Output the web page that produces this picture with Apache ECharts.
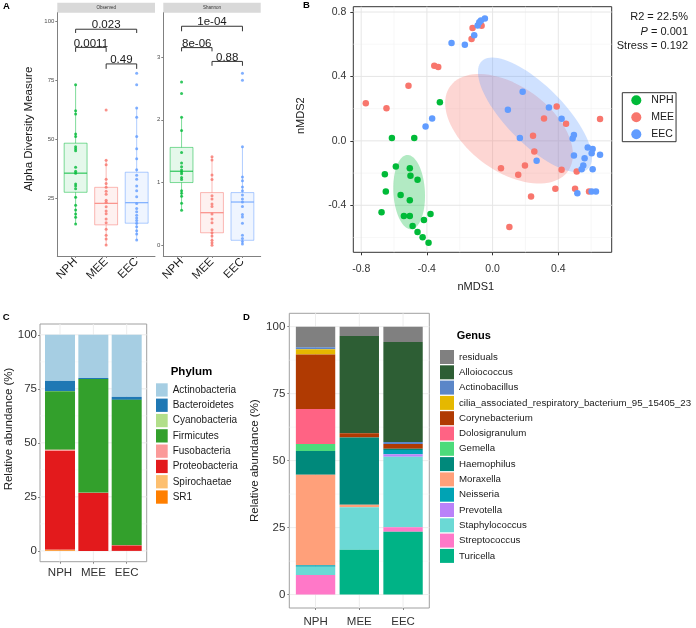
<!DOCTYPE html>
<html><head><meta charset="utf-8">
<script src="https://cdn.jsdelivr.net/npm/echarts@6/dist/echarts.min.js"></script>
<style>html,body{margin:0;padding:0;background:#fff}#c{width:696px;height:628px}</style>
</head><body><div id="c"></div>
<script>
// ---------- shared ----------
const groups = ['NPH', 'MEE', 'EEC'];
const groupColors = ['#00BA38', '#F8766D', '#619CFF'];
const groupPos = [1, 2, 3];

// ---------- Panel A : alpha diversity ----------
const obsNPH = [73.3, 62.3, 60.9, 52.4, 51.3, 47.0, 46.2, 45.3, 38.3, 36.6, 35.8, 31.2, 30.4, 29.2, 25.6, 22.2, 20.2, 18.5, 17.1, 14.3];
const obsMEE = [62.6, 41.3, 39.4, 33.2, 31.4, 29.8, 28.1, 26.9, 24.3, 23.5, 21.6, 19.8, 18.6, 16.4, 14.8, 12.0, 9.5, 7.9, 5.4];
const obsEEC = [78.1, 73.3, 63.4, 59.5, 51.3, 46.2, 41.9, 37.2, 34.9, 33.2, 30.4, 28.4, 25.8, 23.0, 20.8, 19.4, 18.0, 16.8, 15.7, 14.6, 13.1, 11.4, 10.0, 7.5];
const shanNPH = [2.60, 2.42, 2.04, 1.83, 1.48, 1.31, 1.25, 1.20, 1.17, 1.14, 1.08, 1.05, 0.87, 0.83, 0.78, 0.67, 0.56];
const shanMEE = [1.41, 1.36, 1.12, 1.05, 0.79, 0.74, 0.66, 0.62, 0.50, 0.42, 0.36, 0.25, 0.20, 0.15, 0.08, 0.04, 0.00];
const shanEEC = [2.74, 2.63, 1.57, 1.09, 1.03, 0.93, 0.87, 0.80, 0.74, 0.69, 0.62, 0.49, 0.45, 0.35, 0.16, 0.11, 0.06, 0.02];
// box stats: [lower whisker, Q1, median, Q3, upper whisker]
const obsBox = [[14.3, 27.7, 35.8, 48.5, 73.3], [5.4, 13.9, 23.0, 29.8, 41.3], [7.5, 14.6, 23.3, 36.2, 63.4]];
const shanBox = [[0.56, 1.00, 1.18, 1.56, 2.04], [0.00, 0.20, 0.52, 0.84, 1.41], [0.02, 0.08, 0.69, 0.84, 1.57]];
// brackets: [from group, to group, bracket level, tick end]
const obsBrackets = [[1, 3, 96.8, 95.2], [1, 2, 89.1, 87.2], [2, 3, 82.1, 80.0]];
const obsBracketLabels = ['0.023', '0.0011', '0.49'];
const shanBrackets = [[1, 3, 3.49, 3.41], [1, 2, 3.15, 3.09], [2, 3, 2.93, 2.86]];
const shanBracketLabels = ['1e-04', '8e-06', '0.88'];
const obsTicks = [25, 50, 75, 100];
const shanTicks = [0, 1, 2, 3];

// ---------- Panel B : nMDS ----------
const nmdsNPH = [[-0.321, 0.240], [-0.613, 0.017], [-0.477, 0.017], [-0.589, -0.160], [-0.504, -0.170], [-0.656, -0.207], [-0.500, -0.216], [-0.457, -0.242], [-0.650, -0.315], [-0.560, -0.336], [-0.504, -0.369], [-0.676, -0.443], [-0.540, -0.466], [-0.504, -0.466], [-0.378, -0.454], [-0.418, -0.491], [-0.487, -0.528], [-0.457, -0.566], [-0.426, -0.599], [-0.390, -0.632]];
const nmdsMEE = [[-0.772, 0.234], [-0.646, 0.203], [-0.512, 0.342], [-0.355, 0.466], [-0.331, 0.458], [-0.128, 0.632], [-0.122, 0.700], [-0.067, 0.715], [0.390, 0.213], [0.313, 0.139], [0.447, 0.106], [0.654, 0.135], [0.246, 0.031], [0.254, -0.066], [0.051, -0.170], [0.156, -0.211], [0.197, -0.153], [0.420, -0.180], [0.512, -0.191], [0.382, -0.298], [0.234, -0.346], [0.502, -0.298], [0.587, -0.315], [0.102, -0.535]];
const nmdsEEC = [[-0.250, 0.607], [-0.169, 0.597], [-0.112, 0.655], [-0.091, 0.717], [-0.081, 0.736], [-0.071, 0.748], [-0.047, 0.759], [-0.408, 0.089], [-0.368, 0.139], [0.183, 0.305], [0.093, 0.193], [0.343, 0.207], [0.420, 0.137], [0.166, 0.017], [0.495, 0.037], [0.487, 0.015], [0.268, -0.124], [0.495, -0.091], [0.579, -0.041], [0.609, -0.050], [0.603, -0.077], [0.654, -0.087], [0.560, -0.108], [0.552, -0.153], [0.542, -0.176], [0.609, -0.176], [0.516, -0.325], [0.603, -0.315], [0.629, -0.315]];
// ellipses: centre, [semi-axis along angle, perpendicular semi-axis], angle (deg)
const ellipseCenters = [[-0.508, -0.318], [0.100, 0.075], [0.258, 0.161]];
const ellipseAxes = [[0.231, 0.096], [0.445, 0.262], [0.465, 0.177]];
const ellipseAngles = [93, -37, -46];
const nmdsXTicks = [-0.8, -0.4, 0, 0.4];
const nmdsYTicks = [-0.4, 0, 0.4, 0.8];
const nmdsXMinor = [-0.6, -0.2, 0.2, 0.6];
const nmdsYMinor = [-0.6, -0.2, 0.2, 0.6];
const statLines = ['R2 = 22.5%', '{i|P} = 0.001', 'Stress = 0.192'];

// ---------- Panel C : phylum ----------
const phyla = ['Actinobacteria', 'Bacteroidetes', 'Cyanobacteria', 'Firmicutes', 'Fusobacteria', 'Proteobacteria', 'Spirochaetae', 'SR1'];
const phylaColors = ['#A6CEE3', '#1F78B4', '#B2DF8A', '#33A02C', '#FB9A99', '#E31A1C', '#FDBF6F', '#FF7F00'];
const phylumNPH = [21.3, 4.7, 0.1, 27.1, 0.6, 45.7, 0.2, 0.3];
const phylumMEE = [20.0, 0.5, 0.0, 52.6, 0.1, 26.8, 0.0, 0.0];
const phylumEEC = [28.7, 1.4, 0.0, 67.3, 0.1, 2.5, 0.0, 0.0];

// ---------- Panel D : genus ----------
const genera = ['residuals', 'Alloiococcus', 'Actinobacillus', 'cilia_associated_respiratory_bacterium_95_15405_23', 'Corynebacterium', 'Dolosigranulum', 'Gemella', 'Haemophilus', 'Moraxella', 'Neisseria', 'Prevotella', 'Staphylococcus', 'Streptococcus', 'Turicella'];
const generaColors = ['#808080', '#2D5E34', '#5B86C8', '#E5B800', '#B03A02', '#FF6384', '#4CDB7B', '#00897B', '#FFA07A', '#00A3B4', '#BA82F9', '#6BD9D5', '#FF78C8', '#00B386'];
const genusNPH = [7.7, 0.0, 0.7, 2.0, 20.3, 13.1, 2.6, 8.9, 33.7, 0.6, 0.0, 3.1, 7.3, 0.0];
const genusMEE = [3.5, 36.3, 0.0, 0.0, 1.6, 0.0, 0.0, 25.1, 0.9, 0.0, 0.0, 15.9, 0.0, 16.7];
const genusEEC = [5.7, 37.3, 0.8, 0.0, 1.8, 0.0, 0.0, 0.4, 0.0, 1.6, 0.9, 26.4, 1.6, 23.5];
const abundTicks = [0, 25, 50, 75, 100];
const abundMinor = [12.5, 37.5, 62.5, 87.5];

// ================= helpers =================
const FONT = 'Liberation Sans, Arial, sans-serif';
function rgba(hex, a) {
  const n = parseInt(hex.slice(1), 16);
  return 'rgba(' + ((n >> 16) & 255) + ',' + ((n >> 8) & 255) + ',' + (n & 255) + ',' + a + ')';
}
function boxRender(params, api) {
  const x = api.value(0);
  const c = groupColors[params.dataIndex];
  const hw = api.size([0.75, 0])[0] / 2;
  const pMin = api.coord([x, api.value(1)]);
  const pQ1 = api.coord([x, api.value(2)]);
  const pMed = api.coord([x, api.value(3)]);
  const pQ3 = api.coord([x, api.value(4)]);
  const pMax = api.coord([x, api.value(5)]);
  const ln = rgba(c, 0.5);
  return { type: 'group', children: [
    { type: 'line', shape: { x1: pMin[0], y1: pMin[1], x2: pQ1[0], y2: pQ1[1] }, style: { stroke: ln, lineWidth: 1 } },
    { type: 'line', shape: { x1: pQ3[0], y1: pQ3[1], x2: pMax[0], y2: pMax[1] }, style: { stroke: ln, lineWidth: 1 } },
    { type: 'rect', shape: { x: pQ3[0] - hw, y: pQ3[1], width: 2 * hw, height: pQ1[1] - pQ3[1] }, style: { fill: rgba(c, 0.1), stroke: ln, lineWidth: 1 } },
    { type: 'line', shape: { x1: pMed[0] - hw, y1: pMed[1], x2: pMed[0] + hw, y2: pMed[1] }, style: { stroke: rgba(c, 0.75), lineWidth: 1.3 } }
  ] };
}
function bracketRender(labels) {
  return function (params, api) {
    const x1 = api.value(0), x2 = api.value(1), yT = api.value(2), yB = api.value(3);
    const a = api.coord([x1, yB]), b = api.coord([x1, yT]), c = api.coord([x2, yT]), d = api.coord([x2, yB]);
    return { type: 'group', children: [
      { type: 'polyline', shape: { points: [a, b, c, d] }, style: { stroke: '#333', lineWidth: 1, fill: null } },
      { type: 'text', style: { text: labels[params.dataIndex], x: (b[0] + c[0]) / 2, y: b[1] + 2, align: 'center', verticalAlign: 'bottom', fontSize: 11.5, fontFamily: FONT, fill: '#1a1a1a' } }
    ] };
  };
}
function ellipseRender(params, api) {
  const i = params.dataIndex;
  const cx = ellipseCenters[i][0], cy = ellipseCenters[i][1];
  const a = ellipseAxes[i][0], b = ellipseAxes[i][1];
  const th = ellipseAngles[i] * Math.PI / 180;
  const pts = [];
  for (let k = 0; k < 90; k++) {
    const t = k / 90 * 2 * Math.PI;
    const dx = a * Math.cos(t), dy = b * Math.sin(t);
    pts.push(api.coord([cx + dx * Math.cos(th) - dy * Math.sin(th), cy + dx * Math.sin(th) + dy * Math.cos(th)]));
  }
  return { type: 'polygon', shape: { points: pts }, style: { fill: rgba(groupColors[i], 0.3) } };
}
function gridSeries(idx, hVals, vVals, color, width) {
  const rows = hVals.map(v => [0, v]).concat(vVals.map(v => [1, v]));
  return {
    type: 'custom', xAxisIndex: idx, yAxisIndex: idx, z: 0, silent: true, data: rows,
    renderItem: function (params, api) {
      const cs = params.coordSys;
      const o = api.value(0), v = api.value(1);
      if (o === 0) {
        const y = api.coord([0, v])[1];
        return { type: 'line', shape: { x1: cs.x, y1: y, x2: cs.x + cs.width, y2: y }, style: { stroke: color, lineWidth: width } };
      }
      const x = api.coord([v, 0])[0];
      return { type: 'line', shape: { x1: x, y1: cs.y, x2: x, y2: cs.y + cs.height }, style: { stroke: color, lineWidth: width } };
    }
  };
}
function stackSeries(idx, names, colors, groupArrays, width) {
  const out = [];
  names.forEach(function (name, i) {
    const rows = groupArrays.map(function (arr, g) {
      let base = 0;
      for (let j = i + 1; j < arr.length; j++) base += arr[j];
      return [groupPos[g], base, base + arr[i]];
    });
    out.push({
      type: 'custom', name: name, xAxisIndex: idx, yAxisIndex: idx, z: 2, data: rows,
      itemStyle: { color: colors[i] },
      encode: { x: 0, y: [1, 2] },
      renderItem: function (params, api) {
        const x = api.value(0), y0 = api.value(1), y1 = api.value(2);
        if (!(y1 > y0)) return null;
        const p0 = api.coord([x - width / 2, y1]);
        const p1 = api.coord([x + width / 2, y0]);
        return { type: 'rect', shape: { x: p0[0], y: p0[1], width: p1[0] - p0[0], height: p1[1] - p0[1] }, style: { fill: colors[i] } };
      }
    });
  });
  return out;
}
function groupAxisX(gridIndex, extra) {
  return Object.assign({
    type: 'value', gridIndex: gridIndex, min: 0.4, max: 3.6,
    splitLine: { show: false },
    axisLine: { show: false, onZero: false },
    axisTick: { show: true, customValues: groupPos, length: 2, lineStyle: { color: '#888' } },
    axisLabel: { customValues: groupPos, formatter: v => groups[Math.round(v) - 1], fontSize: 11.5, color: '#333', margin: 5 }
  }, extra || {});
}
function titleText(text, x, y, rot, size) {
  return { type: 'text', x: x, y: y, rotation: rot, style: { text: text, fontSize: size, fontFamily: FONT, fill: '#1a1a1a', align: 'center', verticalAlign: 'middle' } };
}

// ================= option =================
const series = [];
// Panel A
[[0, [obsNPH, obsMEE, obsEEC], obsBox, obsBrackets, obsBracketLabels],
 [1, [shanNPH, shanMEE, shanEEC], shanBox, shanBrackets, shanBracketLabels]].forEach(function (p) {
  const idx = p[0];
  series.push({ type: 'custom', xAxisIndex: idx, yAxisIndex: idx, z: 2, silent: true,
    data: p[2].map((b, i) => [groupPos[i]].concat(b)), encode: { x: 0, y: [1, 2, 3, 4, 5] }, renderItem: boxRender });
  p[1].forEach(function (arr, g) {
    series.push({ type: 'scatter', name: 'A-' + groups[g] + idx, xAxisIndex: idx, yAxisIndex: idx, z: 3, silent: true,
      symbol: 'circle', symbolSize: 3, itemStyle: { color: groupColors[g] },
      data: arr.map(v => [groupPos[g], v]) });
  });
  series.push({ type: 'custom', xAxisIndex: idx, yAxisIndex: idx, z: 4, silent: true,
    data: p[3], encode: { x: [0, 1], y: [2, 3] }, renderItem: bracketRender(p[4]) });
});
// Panel B
series.push(gridSeries(2, nmdsYMinor, nmdsXMinor, '#F2F2F2', 0.6));
series.push(gridSeries(2, nmdsYTicks, nmdsXTicks, '#E6E6E6', 1));
series.push({ type: 'custom', xAxisIndex: 2, yAxisIndex: 2, z: 1, silent: true,
  data: ellipseCenters, encode: { x: 0, y: 1 }, renderItem: ellipseRender });
[nmdsNPH, nmdsMEE, nmdsEEC].forEach(function (arr, g) {
  series.push({ type: 'scatter', name: groups[g], xAxisIndex: 2, yAxisIndex: 2, z: 3,
    symbol: 'circle', symbolSize: 6.5, itemStyle: { color: groupColors[g], opacity: 1 }, data: arr });
});
// Panel C
series.push(gridSeries(3, abundMinor, [], '#F5F5F5', 0.6));
series.push(gridSeries(3, abundTicks, groupPos, '#EDEDED', 1));
stackSeries(3, phyla, phylaColors, [phylumNPH, phylumMEE, phylumEEC], 0.9).forEach(s => series.push(s));
// Panel D
series.push(gridSeries(4, abundMinor, [], '#F5F5F5', 0.6));
series.push(gridSeries(4, abundTicks, groupPos, '#EDEDED', 1));
stackSeries(4, genera, generaColors, [genusNPH, genusMEE, genusEEC], 0.9).forEach(s => series.push(s));

const option = {
  animation: false,
  textStyle: { fontFamily: FONT },
  grid: [
    { left: 57.3, top: 12.7, width: 97.7, height: 243.3 },
    { left: 163.3, top: 12.7, width: 97.4, height: 243.3 },
    { left: 353.3, top: 6.7, width: 258.4, height: 245.6, show: true, borderColor: '#333', borderWidth: 1, backgroundColor: 'transparent' },
    { left: 40, top: 324, width: 106.7, height: 237.7, show: true, borderColor: '#A0A0A0', borderWidth: 1, backgroundColor: 'transparent' },
    { left: 289.3, top: 313.3, width: 140, height: 295, show: true, borderColor: '#A0A0A0', borderWidth: 1, backgroundColor: 'transparent' }
  ],
  xAxis: [
    groupAxisX(0, { axisLine: { show: true, onZero: false, lineStyle: { color: '#808080' } },
      axisLabel: { customValues: groupPos, formatter: v => groups[Math.round(v) - 1], rotate: 45, fontSize: 11.5, color: '#1a1a1a', margin: 4 } }),
    groupAxisX(1, { axisLine: { show: true, onZero: false, lineStyle: { color: '#808080' } },
      axisLabel: { customValues: groupPos, formatter: v => groups[Math.round(v) - 1], rotate: 45, fontSize: 11.5, color: '#1a1a1a', margin: 4 } }),
    { type: 'value', gridIndex: 2, min: -0.848, max: 0.725, splitLine: { show: false },
      axisLine: { show: false, onZero: false },
      axisTick: { show: true, customValues: nmdsXTicks, length: 3, lineStyle: { color: '#333' } },
      axisLabel: { customValues: nmdsXTicks, formatter: v => v.toFixed(1), fontSize: 10.5, color: '#333', margin: 11 } },
    groupAxisX(3, { axisLabel: { customValues: groupPos, formatter: v => groups[Math.round(v) - 1], fontSize: 11.5, color: '#333', margin: 5 } }),
    groupAxisX(4, { axisLabel: { customValues: groupPos, formatter: v => groups[Math.round(v) - 1], fontSize: 11.5, color: '#333', margin: 8 } })
  ],
  yAxis: [
    { type: 'value', gridIndex: 0, min: 0.7, max: 103.8, splitLine: { show: false },
      axisLine: { show: true, onZero: false, lineStyle: { color: '#808080' } },
      axisTick: { show: true, customValues: obsTicks, length: 2, lineStyle: { color: '#808080' } },
      axisLabel: { customValues: obsTicks, fontSize: 6, color: '#4D4D4D', margin: 3 } },
    { type: 'value', gridIndex: 1, min: -0.17, max: 3.706, splitLine: { show: false },
      axisLine: { show: true, onZero: false, lineStyle: { color: '#808080' } },
      axisTick: { show: true, customValues: shanTicks, length: 2, lineStyle: { color: '#808080' } },
      axisLabel: { customValues: shanTicks, fontSize: 6, color: '#4D4D4D', margin: 3 } },
    { type: 'value', gridIndex: 2, min: -0.692, max: 0.833, splitLine: { show: false },
      axisLine: { show: false, onZero: false },
      axisTick: { show: true, customValues: nmdsYTicks, length: 3, lineStyle: { color: '#333' } },
      axisLabel: { customValues: nmdsYTicks, formatter: v => v.toFixed(1), fontSize: 10.5, color: '#333', margin: 7 } },
    { type: 'value', gridIndex: 3, min: -5, max: 105, splitLine: { show: false },
      axisLine: { show: false, onZero: false },
      axisTick: { show: true, customValues: abundTicks, length: 2, lineStyle: { color: '#888' } },
      axisLabel: { customValues: abundTicks, fontSize: 11.5, color: '#333', margin: 3 } },
    { type: 'value', gridIndex: 4, min: -5, max: 105, splitLine: { show: false },
      axisLine: { show: false, onZero: false },
      axisTick: { show: true, customValues: abundTicks, length: 2, lineStyle: { color: '#888' } },
      axisLabel: { customValues: abundTicks, fontSize: 11.5, color: '#333', margin: 4 },
      name: 'Relative abundance (%)', nameLocation: 'middle', nameGap: 28.5, nameTextStyle: { fontSize: 11.5, color: '#1a1a1a' } }
  ],
  legend: [
    { data: groups, left: 622.3, top: 92.7, orient: 'vertical', icon: 'circle', itemWidth: 10, itemHeight: 10, itemGap: 6,
      padding: [2, 2, 2, 9], borderColor: '#333', borderWidth: 1, selectedMode: false,
      textStyle: { fontSize: 10.5, color: '#1a1a1a', padding: [0, 0, 0, 5] } },
    { data: phyla, left: 156, top: 383.3, orient: 'vertical', icon: 'rect', itemWidth: 11.7, itemHeight: 13.3, itemGap: 2,
      padding: 0, selectedMode: false, textStyle: { fontSize: 10, color: '#1a1a1a' } },
    { data: genera, left: 440, top: 350, orient: 'vertical', icon: 'rect', itemWidth: 14, itemHeight: 14, itemGap: 1.3,
      padding: 0, selectedMode: false, textStyle: { fontSize: 9.7, color: '#1a1a1a' } }
  ],
  graphic: [
    { type: 'text', x: 3, y: 6, style: { text: 'A', fontSize: 9.5, fontWeight: 'bold', fontFamily: FONT, fill: '#000', verticalAlign: 'middle' } },
    { type: 'text', x: 303, y: 5.5, style: { text: 'B', fontSize: 9.5, fontWeight: 'bold', fontFamily: FONT, fill: '#000', verticalAlign: 'middle' } },
    { type: 'text', x: 2.7, y: 317, style: { text: 'C', fontSize: 9.5, fontWeight: 'bold', fontFamily: FONT, fill: '#000', verticalAlign: 'middle' } },
    { type: 'text', x: 243, y: 317, style: { text: 'D', fontSize: 9.5, fontWeight: 'bold', fontFamily: FONT, fill: '#000', verticalAlign: 'middle' } },
    { type: 'rect', shape: { x: 57.3, y: 2.7, width: 97.7, height: 10 }, style: { fill: '#D9D9D9' } },
    { type: 'rect', shape: { x: 163.3, y: 2.7, width: 97.4, height: 10 }, style: { fill: '#D9D9D9' } },
    { type: 'text', x: 106.2, y: 7.7, style: { text: 'Observed', fontSize: 4.5, fontFamily: FONT, fill: '#333', align: 'center', verticalAlign: 'middle' } },
    { type: 'text', x: 212, y: 7.7, style: { text: 'Shannon', fontSize: 4.5, fontFamily: FONT, fill: '#333', align: 'center', verticalAlign: 'middle' } },
    titleText('Alpha Diversity Measure', 28.5, 129, Math.PI / 2, 11.5),
    titleText('nMDS2', 301, 115.7, Math.PI / 2, 11),
    titleText('nMDS1', 475.8, 286.7, 0, 11),
    titleText('Relative abundance (%)', 8.5, 429, Math.PI / 2, 11.5),
    { type: 'text', x: 688, y: 17.3, style: { text: statLines[0], fontSize: 11, fontFamily: FONT, fill: '#1a1a1a', align: 'right', verticalAlign: 'middle' } },
    { type: 'text', x: 688, y: 31.7, style: { text: statLines[1], rich: { i: { fontStyle: 'italic', fontSize: 11, fontFamily: FONT, fill: '#1a1a1a' } }, fontSize: 11, fontFamily: FONT, fill: '#1a1a1a', align: 'right', verticalAlign: 'middle' } },
    { type: 'text', x: 688, y: 45.7, style: { text: statLines[2], fontSize: 11, fontFamily: FONT, fill: '#1a1a1a', align: 'right', verticalAlign: 'middle' } },
    { type: 'text', x: 170.7, y: 371.7, style: { text: 'Phylum', fontSize: 11.5, fontWeight: 'bold', fontFamily: FONT, fill: '#000', verticalAlign: 'middle' } },
    { type: 'text', x: 456.7, y: 336, style: { text: 'Genus', fontSize: 11, fontWeight: 'bold', fontFamily: FONT, fill: '#000', verticalAlign: 'middle' } }
  ],
  series: series
};
const chart = echarts.init(document.getElementById('c'), null, { renderer: 'canvas' });
chart.setOption(option);
</script>
</body></html>
